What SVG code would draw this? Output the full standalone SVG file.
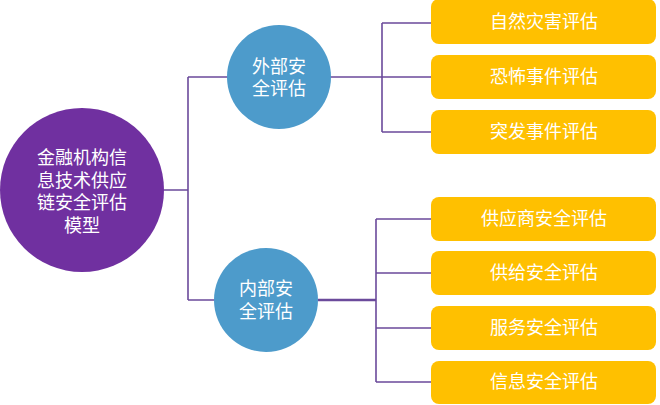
<svg xmlns="http://www.w3.org/2000/svg" width="660" height="405" viewBox="0 0 660 405">
<style>
.ln{stroke:#6B4A9B;stroke-width:1.6;fill:none}
.box{fill:#FFC000}
.blue{fill:#4D9BCB}
.t{font-family:"Liberation Sans","Noto Sans CJK SC",sans-serif;font-size:18px;fill:#fff;text-anchor:middle;dominant-baseline:central}
</style>
<rect width="660" height="405" fill="#fff"/>
<g id="connectors">
<path class="ln" d="M164 190H188M188 77V300M188 77H228M188 300H216"/>
<path class="ln" d="M330 77H382M382 23V132M382 23H431M382 77H431M382 132H431"/>
<path class="ln" d="M318 300H376" stroke-width="2.6" style="stroke-width:2.6"/>
<path class="ln" d="M376 219V382M376 219H431M376 273H431M376 328H431M376 382H431"/>
</g>
<g id="root"><circle cx="82" cy="190" r="82" fill="#7030A0"/>
<text class="t" x="82" y="158">金融机构信</text>
<text class="t" x="82" y="181">息技术供应</text>
<text class="t" x="82" y="203">链安全评估</text>
<text class="t" x="82" y="226">模型</text></g>
<g id="external"><circle class="blue" cx="279" cy="77" r="52"/>
<text class="t" x="279" y="67">外部安</text><text class="t" x="279" y="89">全评估</text></g>
<g id="internal"><circle class="blue" cx="266" cy="300" r="52"/>
<text class="t" x="266" y="289">内部安</text><text class="t" x="266" y="312">全评估</text></g>
<g id="b1"><rect class="box" x="431" y="-1" width="225" height="45" rx="8"/><text class="t" x="544" y="22">自然灾害评估</text></g>
<g id="b2"><rect class="box" x="431" y="55" width="225" height="44" rx="8"/><text class="t" x="544" y="77">恐怖事件评估</text></g>
<g id="b3"><rect class="box" x="431" y="110" width="225" height="44" rx="8"/><text class="t" x="544" y="132">突发事件评估</text></g>
<g id="b4"><rect class="box" x="431" y="197" width="225" height="44" rx="8"/><text class="t" x="544" y="219">供应商安全评估</text></g>
<g id="b5"><rect class="box" x="431" y="251" width="225" height="44" rx="8"/><text class="t" x="544" y="273">供给安全评估</text></g>
<g id="b6"><rect class="box" x="431" y="306" width="225" height="44" rx="8"/><text class="t" x="544" y="328">服务安全评估</text></g>
<g id="b7"><rect class="box" x="431" y="361" width="225" height="43" rx="8"/><text class="t" x="544" y="382">信息安全评估</text></g>
</svg>
